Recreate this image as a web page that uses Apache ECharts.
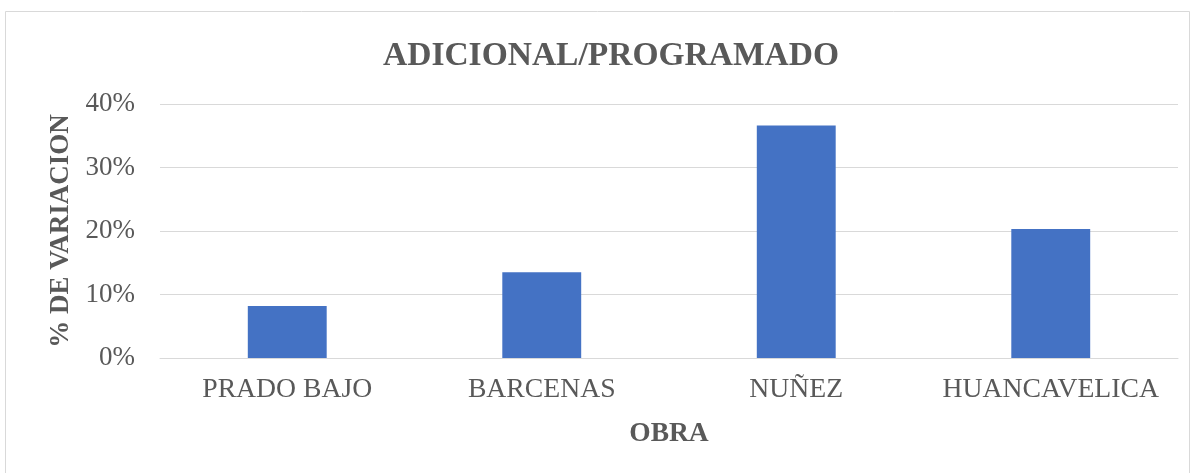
<!DOCTYPE html>
<html>
<head>
<meta charset="utf-8">
<script src="https://cdn.jsdelivr.net/npm/echarts@6/dist/echarts.min.js"></script>
<style>
  html, body { margin: 0; padding: 0; background: #fff; }
  #chart { width: 1196px; height: 473px; }
</style>
</head>
<body>
<div id="chart"></div>
<script>
// datos
const obras = ['PRADO BAJO', 'BARCENAS', 'NUÑEZ', 'HUANCAVELICA'];
const variacion = [8.2, 13.5, 36.6, 20.3];

const chart = echarts.init(document.getElementById('chart'));
const serif = 'Liberation Serif';

chart.setOption({
  backgroundColor: '#fff',
  animation: false,
  // marco del grafico
  graphic: [{
    type: 'rect',
    shape: { x: 5.5, y: 11.5, width: 1184, height: 480 },
    style: { fill: 'none', stroke: '#d9d9d9', lineWidth: 1 }
  }],
  title: {
    text: 'ADICIONAL/PROGRAMADO',
    left: 378,
    top: 34,
    textStyle: { fontFamily: serif, fontSize: 33.5, fontWeight: 'bold', color: '#595959' }
  },
  grid: { left: 160, right: 18, top: 104, bottom: 115 },
  xAxis: {
    type: 'category',
    data: obras,
    name: 'OBRA',
    nameLocation: 'middle',
    nameGap: 62,
    nameTextStyle: { fontFamily: serif, fontSize: 27.5, fontWeight: 'bold', color: '#595959' },
    axisLine: { lineStyle: { color: '#d9d9d9', width: 1 } },
    axisTick: { show: false },
    axisLabel: { fontFamily: serif, fontSize: 27.7, color: '#595959', margin: 18, interval: 0 }
  },
  yAxis: {
    type: 'value',
    min: 0,
    max: 40,
    interval: 10,
    name: '% DE VARIACION',
    nameLocation: 'middle',
    nameGap: 81,
    nameTextStyle: { fontFamily: serif, fontSize: 27, fontWeight: 'bold', color: '#595959' },
    axisLine: { show: false },
    axisTick: { show: false },
    axisLabel: {
      fontFamily: serif, fontSize: 27, color: '#595959', margin: 25,
      formatter: v => v + '%'
    },
    splitLine: { lineStyle: { color: '#d9d9d9', width: 1 } }
  },
  series: [{
    type: 'bar',
    data: variacion,
    barWidth: '31%',
    itemStyle: { color: '#4472c4' }
  }]
});
</script>
</body>
</html>
